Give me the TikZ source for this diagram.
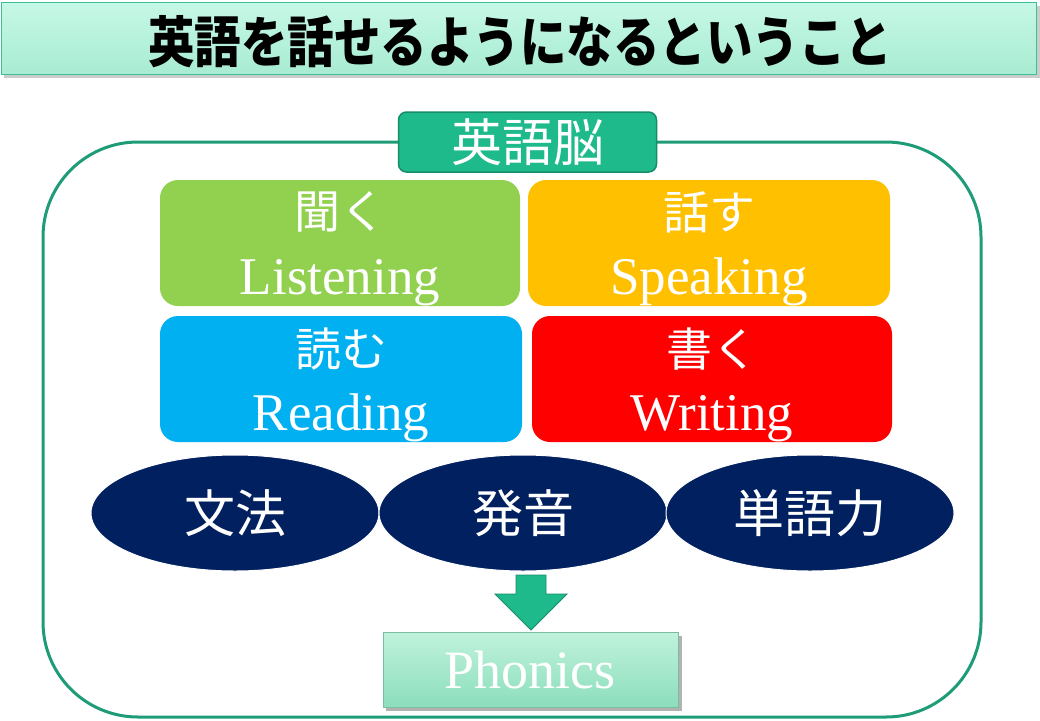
\documentclass[tikz,border=0pt]{standalone}
\usepackage{fontspec}
\setmainfont{Liberation Serif}
\newfontfamily\jp{Noto Sans CJK JP}
\usetikzlibrary{shapes.geometric,shadows}
\definecolor{teal1}{HTML}{1E9C78}
\definecolor{tabfill}{HTML}{1FBA8C}
\definecolor{tabline}{HTML}{168C69}
\definecolor{titletop}{HTML}{C6F8E6}
\definecolor{titlebot}{HTML}{A8ECD2}
\definecolor{titleline}{HTML}{3CBE96}
\definecolor{phtop}{HTML}{C0F2DC}
\definecolor{phbot}{HTML}{8CDEBC}
\definecolor{phline}{HTML}{78BEA0}
\definecolor{lgreen}{HTML}{92D050}
\definecolor{lorange}{HTML}{FFC000}
\definecolor{lblue}{HTML}{00B0F0}
\definecolor{lred}{HTML}{FF0000}
\definecolor{navy}{HTML}{002060}
\tikzset{
  skill/.style={rounded corners=18pt, draw=none},
  jptext/.style={text=white, font=\jp\fontsize{46}{46}\selectfont, inner sep=0pt},
  entext/.style={text=white, font=\fontsize{53}{53}\selectfont, inner sep=0pt, anchor=base},
  oval/.style={ellipse, fill=navy, draw=white, line width=1pt, minimum width=288pt, minimum height=116pt, inner sep=0pt, text=white, font=\jp\fontsize{51}{51}\selectfont},
}
\begin{document}
\begin{tikzpicture}[x=1pt,y=-1pt]
\useasboundingbox (0,0) rectangle (1040,720);
\fill[white] (0,0) rectangle (1040,720);
% title bar
\fill[black!20] (4,6) rectangle (1040,78);
\shade[top color=titletop, bottom color=titlebot, draw=titleline, line width=1pt] (1,2) rectangle (1036,74);
\node[inner sep=0pt, font=\jp\bfseries\fontsize{50}{50}\selectfont] (title) at (520,42) {\scalebox{0.93}[1.1]{英語を話せるようになるということ}};
% outer frame
\draw[teal1, line width=3pt, rounded corners=95pt] (43,142) rectangle (981,717);
% tab
\node[draw=tabline, line width=1.5pt, fill=tabfill, rounded corners=8pt, minimum width=258pt, minimum height=60pt, inner sep=0pt, text=white, font=\jp\fontsize{51}{51}\selectfont] (tab) at (527.5,142) {英語脳};
% skill boxes
\fill[skill, lgreen] (160,180) rectangle (520,306);
\fill[skill, lorange] (528,180) rectangle (890,306);
\fill[skill, lblue] (160,316) rectangle (522,442);
\fill[skill, lred] (532,316) rectangle (892,442);
\node[jptext] (lj) at (340,212) {聞く};
\node[entext] (le) at (340,294) {Listening};
\node[jptext] (sj) at (709,212) {話す};
\node[entext] (se) at (709,294) {Speaking};
\node[jptext] (rj) at (341,349) {読む};
\node[entext] (re) at (341,430) {Reading};
\node[jptext] (wj) at (712,349) {書く};
\node[entext] (we) at (712,430) {Writing};
% ovals
\node[oval] (gram) at (235,513) {文法};
\node[oval] (pron) at (523,513) {発音};
\node[oval] (voc) at (810,513) {単語力};
% arrow
\filldraw[fill=tabfill, draw=tabline, line width=0.8pt]
  (516,575) -- (546,575) -- (546,594) -- (567,594) -- (531,630) -- (495,594) -- (516,594) -- cycle;
% phonics
\fill[black!30] (386,636) rectangle (682,711);
\shade[top color=phtop, bottom color=phbot, draw=phline, line width=0.8pt] (383,632) rectangle (678,707);
\node[inner sep=0pt, text=white, font=\fontsize{54}{54}\selectfont, anchor=base] (phon) at (530,688) {Phonics};
\end{tikzpicture}
\end{document}
